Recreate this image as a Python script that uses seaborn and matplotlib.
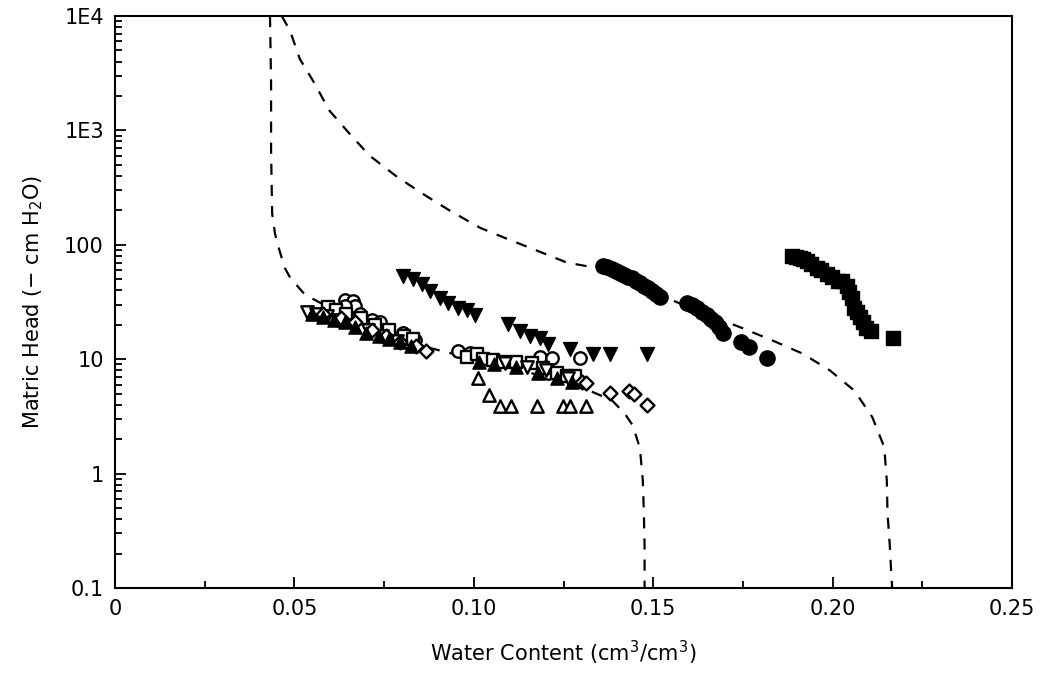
import numpy as np
import pandas as pd
import matplotlib
matplotlib.use("Agg")
import matplotlib.pyplot as plt
import seaborn as sns
from matplotlib.ticker import FixedLocator, NullFormatter, LogLocator

# dashed fitted curves (water content, matric head)
upper_theta = [0.0465, 0.0488, 0.0515, 0.0552, 0.0598, 0.0654, 0.0710, 0.0786, 0.0857, 0.0933,
               0.1017, 0.1092, 0.1176, 0.1259, 0.1351, 0.1463, 0.1568, 0.1750, 0.1832, 0.1916,
               0.1992, 0.2061, 0.2111, 0.2144, 0.2151, 0.2153, 0.2159, 0.2164, 0.2166]
upper_head = [10000, 7400, 4220, 2710, 1483, 933, 600, 393, 280, 199,
              141, 113, 89, 70, 62, 44, 31.3, 18.6, 14.6, 11.2,
              8.0, 5.3, 3.1, 1.70, 0.875, 0.451, 0.247, 0.125, 0.1]

lower_theta = [0.0432, 0.0435, 0.0435, 0.0438, 0.0446, 0.0456, 0.0473, 0.0488, 0.0524, 0.0549,
               0.0654, 0.0766, 0.0849, 0.0925, 0.1072, 0.1212, 0.1323, 0.1385, 0.1420, 0.1443,
               0.1463, 0.1471, 0.1474, 0.1476, 0.1476]
lower_head = [10000, 2550, 664, 187, 125, 94.6, 63, 51.7, 38.3, 34,
              22.7, 16.8, 13.2, 11.5, 8.8, 6.9, 5.3, 4.37, 3.37, 2.64,
              1.67, 0.875, 0.451, 0.228, 0.1]

# measured points
open_circle_x = [0.0641, 0.0663, 0.0669, 0.0641, 0.0682, 0.0716, 0.0738, 0.0760, 0.0802, 0.0836,
                 0.0956, 0.0989, 0.1184, 0.1217, 0.1296, 0.1206]
open_circle_y = [32.6, 32, 29.4, 29.4, 25, 21.8, 21, 17.8, 17, 14.6,
                 11.9, 11.3, 10.5, 10.3, 10.3, 7.6]

open_square_x = [0.0595, 0.0615, 0.0645, 0.0685, 0.0725, 0.0765, 0.0805, 0.0830,
                 0.0981, 0.1009, 0.1025, 0.1053, 0.1081, 0.1119, 0.1161, 0.1192, 0.1232, 0.1259, 0.1281]
open_square_y = [28.5, 27, 25, 23, 20, 18, 16, 15,
                 10.4, 11.2, 10.1, 9.8, 9.4, 9.4, 9.2, 8.4, 7.6, 7.2, 7.2]

open_tri_down_x = [0.0535, 0.0560, 0.0590, 0.0620, 0.0660, 0.0705, 0.0745, 0.0785,
                   0.1086, 0.1149, 0.1200, 0.1262]
open_tri_down_y = [26, 25, 24, 22, 20, 18, 16, 14.5,
                   9.2, 8.6, 8.0, 6.8]

open_tri_up_x = [0.1011, 0.1042, 0.1072, 0.1103, 0.1175, 0.1248, 0.1268, 0.1314]
open_tri_up_y = [6.8, 4.83, 3.87, 3.87, 3.87, 3.87, 3.87, 3.87]

open_diamond_x = [0.0580, 0.0630, 0.0670, 0.0715, 0.0755, 0.0795, 0.0840, 0.0868,
                  0.1301, 0.1314, 0.1379, 0.1433, 0.1446, 0.1482]
open_diamond_y = [25, 23, 21, 18, 16, 14, 13, 11.9,
                  6.3, 6.2, 5.1, 5.3, 5.0, 3.95]

filled_tri_up_x = [0.0550, 0.0580, 0.0610, 0.0640, 0.0670, 0.0700, 0.0735, 0.0765, 0.0795, 0.0825,
                   0.1014, 0.1055, 0.1118, 0.1180, 0.1231, 0.1273]
filled_tri_up_y = [25, 23.5, 22, 21, 19, 17, 16, 15, 14, 13,
                   9.5, 9, 8.5, 7.5, 6.8, 6.3]

filled_tri_down_x = [0.0802, 0.0830, 0.0855, 0.0877, 0.0905, 0.0928, 0.0956, 0.0981, 0.1002,
                     0.1095, 0.1128, 0.1156, 0.1184, 0.1206, 0.1268, 0.1331, 0.1379, 0.1482]
filled_tri_down_y = [53.9, 50.7, 45.8, 39.8, 34.6, 31.3, 28.3, 26.7, 24.1,
                     20.5, 17.8, 16.1, 15.3, 13.7, 12.4, 11.2, 11.2, 11.2]

filled_circle_x = [0.1359, 0.1372, 0.1385, 0.1396, 0.1407, 0.1418, 0.1429, 0.1440, 0.1451,
                   0.1462, 0.1474, 0.1485, 0.1496, 0.1507, 0.1518,
                   0.1593, 0.1607, 0.1621, 0.1635, 0.1649, 0.1660, 0.1671, 0.1683, 0.1694,
                   0.1746, 0.1768, 0.1816]
filled_circle_y = [65.8, 64, 62, 59.5, 57.2, 55, 52.8, 50.8, 48.7,
                   46.3, 44, 41.8, 39.8, 37.5, 35.3,
                   31.3, 29.8, 28.3, 26.1, 24.1, 22.5, 21, 19, 17.1,
                   14.0, 12.7, 10.2]

filled_square_x = [0.1888, 0.1898, 0.1908, 0.1918, 0.1928, 0.1941, 0.1956, 0.1969, 0.1983, 0.1998,
                   0.2014, 0.2027, 0.2039, 0.2046, 0.2053, 0.2061, 0.2068, 0.2075, 0.2085, 0.2094,
                   0.2108, 0.2167]
filled_square_y = [80.5, 79, 77, 75, 72.9, 68, 63.2, 60, 56.1, 52,
                   48.7, 48, 44, 39, 34.6, 28.3, 26, 23.2, 21, 18.9,
                   17.8, 15.2]

fig = plt.figure(figsize=(10.62, 6.79), dpi=100)
ax = fig.add_axes([115 / 1062, 1 - 588 / 679, (1012 - 115) / 1062, (588 - 16) / 679])

sns.set_style("ticks")
plt.rcParams['font.family'] = ['Liberation Sans', 'DejaVu Sans']

curves = [(upper_theta, upper_head), (lower_theta, lower_head)]
for cx, cy in curves:
    df = pd.DataFrame({"theta": cx, "head": cy})
    sns.lineplot(data=df, x="theta", y="head", sort=False, ax=ax, color="black",
                 linewidth=1.6, linestyle=(0, (5, 4.5)), estimator=None)

open_series = [
    (open_circle_x, open_circle_y, "o", 80),
    (open_square_x, open_square_y, "s", 75),
    (open_tri_down_x, open_tri_down_y, "v", 80),
    (open_tri_up_x, open_tri_up_y, "^", 80),
    (open_diamond_x, open_diamond_y, "D", 50),
]
for sx, sy, m, size in open_series:
    df = pd.DataFrame({"theta": sx, "head": sy})
    sns.scatterplot(data=df, x="theta", y="head", marker=m, s=size,
                    facecolor="white", edgecolor="black", linewidth=1.7, ax=ax, zorder=3)

filled_series = [
    (filled_tri_up_x, filled_tri_up_y, "^", 90),
    (filled_tri_down_x, filled_tri_down_y, "v", 100),
    (filled_circle_x, filled_circle_y, "o", 120),
    (filled_square_x, filled_square_y, "s", 100),
]
for sx, sy, m, size in filled_series:
    df = pd.DataFrame({"theta": sx, "head": sy})
    sns.scatterplot(data=df, x="theta", y="head", marker=m, s=size,
                    color="black", edgecolor="black", linewidth=1, ax=ax, zorder=4)

ax.set_yscale("log")
ax.set_xlim(0, 0.25)
ax.set_ylim(0.1, 10000)
ax.yaxis.set_major_locator(FixedLocator([0.1, 1, 10, 100, 1000, 10000]))
ax.set_yticklabels(["0.1", "1", "10", "100", "1E3", "1E4"])
ax.yaxis.set_minor_locator(LogLocator(base=10, subs=np.arange(2, 10), numticks=20))
ax.yaxis.set_minor_formatter(NullFormatter())
ax.set_xticks([0, 0.05, 0.10, 0.15, 0.20, 0.25])
ax.set_xticklabels(["0", "0.05", "0.10", "0.15", "0.20", "0.25"])
ax.set_xticks([0.025, 0.075, 0.125, 0.175, 0.225], minor=True)

ax.tick_params(which="both", direction="in", top=False, right=False, labelsize=15, width=1.3)
ax.tick_params(which="major", length=8, pad=8)
ax.tick_params(which="minor", length=5)
for sp in ax.spines.values():
    sp.set_linewidth(1.5)
    sp.set_visible(True)

ax.set_xlabel("Water Content (cm$^3$/cm$^3$)", fontsize=15, labelpad=14)
ax.set_ylabel("Matric Head ($-$ cm H$_2$O)", fontsize=15, labelpad=14)

fig.savefig("out.png", dpi=100)
